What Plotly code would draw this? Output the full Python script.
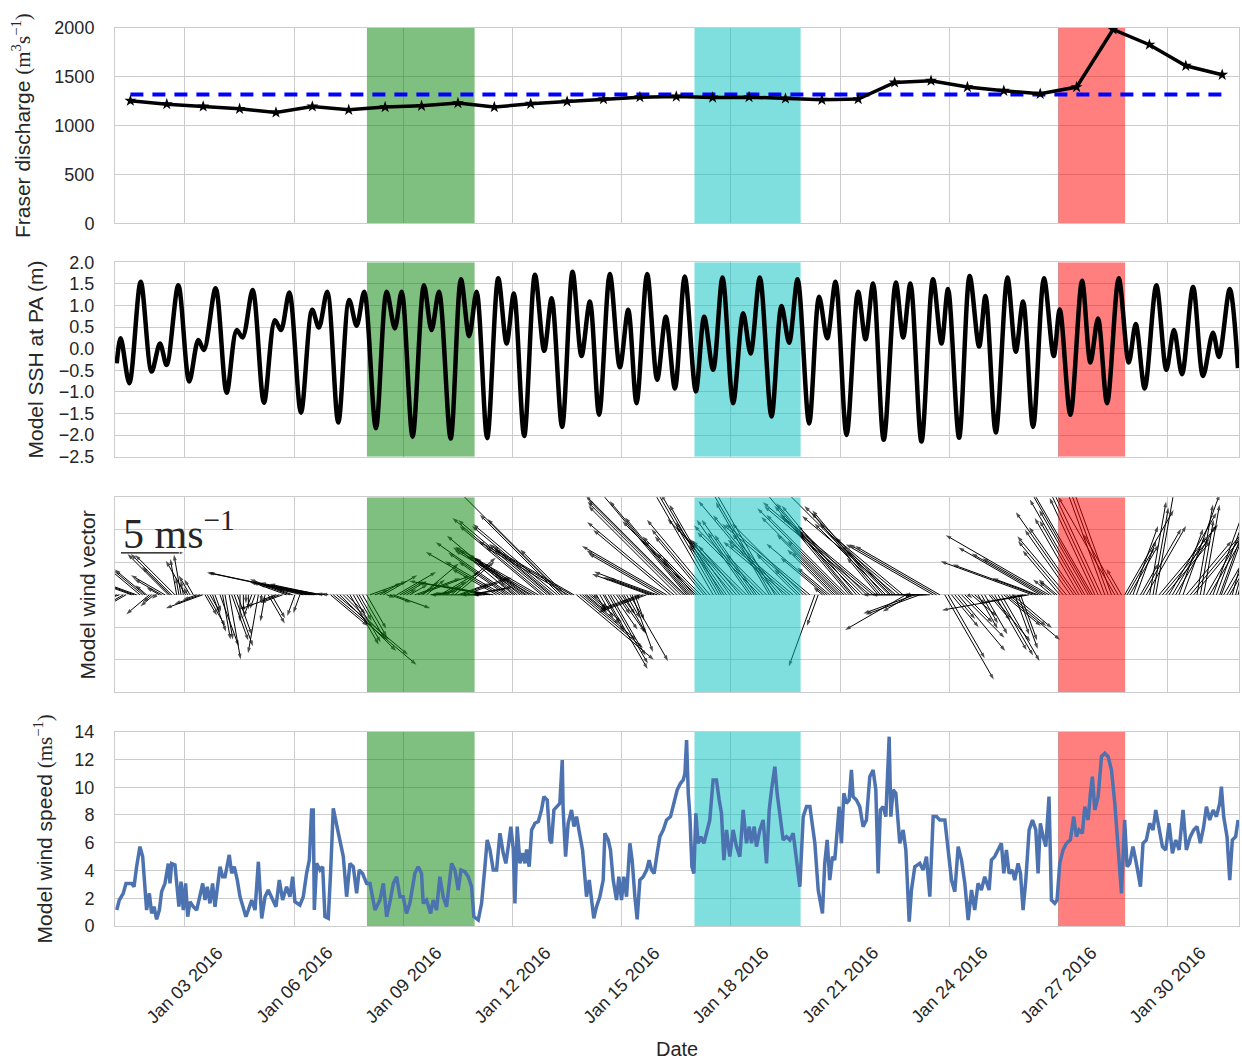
import numpy as np
import pandas as pd
import plotly.graph_objects as go
from plotly.subplots import make_subplots

T0 = pd.Timestamp("2016-01-01 00:00")

# ---------------- data ----------------
# Fraser discharge: daily means (plotted at noon), Jan 1 .. Jan 31
discharge_days = list(range(1, 32))
discharge_values = [1255, 1220, 1196, 1172, 1135, 1196, 1162, 1190, 1203, 1231,
                    1190, 1224, 1247, 1272, 1292, 1298, 1288, 1292, 1278, 1265,
                    1272, 1442, 1460, 1395, 1357, 1326, 1395, 1985, 1829, 1613, 1521]
discharge_mean = 1320

# Model SSH at PA: turning points (hours since 2016-01-01 00:00, metres)
ssh_points = [
    (3.0, -0.34), (5.6, 0.24), (11.3, -0.80), (18.8, 1.55), (26.0, -0.53), (31.5, 0.12),
    (35.9, -0.38), (43.6, 1.47), (50.8, -0.76), (56.8, 0.20), (60.5, -0.03), (68.2, 1.40),
    (75.5, -1.02), (82.1, 0.43), (86.0, 0.26), (92.6, 1.36), (100.1, -1.25), (107.3, 0.66),
    (111.3, 0.43), (116.8, 1.30), (124.5, -1.48), (131.9, 0.90), (136.3, 0.49), (141.8, 1.32),
    (149.1, -1.71), (156.3, 1.13), (161.2, 0.53), (166.2, 1.32), (173.9, -1.84), (181.0, 1.32),
    (186.4, 0.47), (190.9, 1.32), (198.1, -2.04), (205.6, 1.47), (210.6, 0.43), (215.5, 1.32),
    (223.2, -2.08), (230.0, 1.61), (235.4, 0.29), (240.3, 1.32), (247.3, -2.07), (254.6, 1.63),
    (260.1, 0.12), (264.9, 1.28), (271.7, -2.02), (278.8, 1.71), (284.9, -0.05), (289.8, 1.17),
    (296.7, -1.81), (303.6, 1.78), (309.5, -0.17), (315.0, 1.09), (321.1, -1.53), (328.2, 1.73),
    (334.8, -0.43), (340.3, 0.90), (345.8, -1.26), (352.8, 1.73), (359.4, -0.72), (365.1, 0.74),
    (371.1, -0.92), (377.6, 1.67), (384.9, -0.99), (390.4, 0.74), (396.3, -0.49), (402.5, 1.65),
    (409.5, -1.26), (416.1, 0.82), (421.0, -0.11), (427.1, 1.65), (434.8, -1.57), (441.4, 0.99),
    (446.4, 0.14), (452.0, 1.61), (459.6, -1.73), (466.2, 1.20), (471.5, 0.24), (477.0, 1.55),
    (484.3, -2.00), (491.9, 1.32), (496.8, 0.22), (501.8, 1.51), (508.8, -2.11), (516.8, 1.53),
    (521.6, 0.26), (526.4, 1.51), (533.7, -2.15), (541.3, 1.61), (546.9, 0.12), (551.2, 1.38),
    (558.5, -2.06), (565.5, 1.68), (571.7, 0.05), (575.9, 1.22), (582.7, -1.94), (590.4, 1.65),
    (595.9, -0.07), (600.7, 1.09), (607.3, -1.81), (614.5, 1.63), (620.9, -0.17), (624.9, 0.91),
    (631.9, -1.53), (639.6, 1.57), (645.1, -0.32), (650.1, 0.70), (656.1, -1.26), (663.8, 1.63),
    (670.4, -0.32), (675.0, 0.57), (680.9, -0.92), (688.6, 1.47), (695.2, -0.49), (700.2, 0.43),
    (705.5, -0.59), (712.8, 1.43), (719.4, -0.63), (725.9, 0.37), (729.9, -0.19), (737.0, 1.38),
    (742.4, -0.45),
]

# Model wind speed: vertices of the trace (hours since 2016-01-01 00:00, m/s)
speed_points = [
    (3.0, 1.15), (4.7, 1.87), (7.3, 2.35), (9.1, 3.07), (12.8, 3.07), (14.4, 2.83), (16.1, 4.27),
    (18.3, 5.72), (20.1, 5.0), (21.6, 3.07), (22.7, 1.15), (24.5, 2.35), (26.0, 0.91), (27.6, 1.39),
    (29.3, 0.48), (31.1, 1.15), (32.6, 2.47), (34.8, 3.07), (37.0, 4.5), (38.1, 3.07), (39.2, 4.5),
    (41.4, 4.4), (42.5, 2.83), (44.0, 1.39), (45.4, 3.19), (46.9, 1.15), (48.4, 3.07), (49.8, 0.67),
    (51.3, 1.75), (53.5, 1.39), (55.7, 1.15), (57.9, 2.11), (59.7, 3.07), (61.2, 1.87), (62.7, 2.83),
    (64.5, 1.63), (66.2, 3.07), (67.8, 1.39), (71.1, 4.27), (72.8, 3.55), (74.4, 3.55), (77.2, 5.12),
    (78.8, 3.79), (80.5, 4.27), (82.5, 3.31), (84.3, 2.11), (86.5, 1.39), (88.2, 0.67), (89.8, 1.15),
    (92.0, 1.87), (94.2, 1.15), (96.4, 4.63), (98.6, 0.55), (100.8, 2.11), (102.9, 2.59), (105.1, 2.11),
    (108.0, 1.39), (110.2, 3.31), (112.4, 1.87), (115.0, 2.83), (117.2, 2.11), (119.0, 3.55),
    (120.5, 1.75), (123.8, 1.51), (126.0, 2.11), (128.2, 3.79), (130.0, 4.75), (131.5, 8.36),
    (132.6, 8.36), (133.3, 1.15), (134.8, 4.51), (137.0, 4.03), (138.8, 4.27), (140.3, 0.67),
    (142.5, 0.55), (144.0, 3.79), (145.8, 8.48), (148.0, 7.28), (150.2, 6.2), (152.4, 5.0),
    (154.6, 2.11), (156.8, 4.51), (159.0, 4.27), (161.2, 2.35), (162.9, 4.03), (165.1, 3.79),
    (167.8, 3.07), (170.0, 3.07), (173.3, 1.15), (176.6, 1.87), (178.8, 3.07), (181.0, 0.67),
    (183.2, 1.75), (185.4, 3.07), (187.6, 3.55), (189.8, 2.11),
    (191.9, 2.11), (194.1, 0.91), (196.3, 1.63), (199.6, 3.79), (201.8, 4.27), (204.0, 3.79),
    (205.1, 1.63), (207.3, 1.87), (210.0, 0.91), (211.7, 1.87), (213.9, 1.15), (216.1, 3.55),
    (218.3, 2.11), (220.5, 1.39), (223.8, 4.51), (226.0, 4.03), (228.2, 2.59), (230.0, 4.03),
    (232.6, 3.91), (234.8, 3.55), (237.0, 2.83), (238.5, 0.67), (241.4, 0.43), (243.6, 1.63),
    (245.8, 4.27), (247.3, 6.2), (249.1, 5.52), (251.3, 4.03), (253.5, 4.03), (255.7, 6.68),
    (257.9, 5.24), (259.6, 4.51), (261.2, 5.72), (262.9, 7.16), (264.5, 5.52), (265.6, 1.63),
    (267.1, 7.16), (268.9, 4.51), (270.6, 5.24), (272.2, 4.51), (273.3, 5.52), (275.0, 4.27),
    (276.6, 6.92), (278.8, 7.4), (281.0, 7.52), (283.1, 8.36), (284.7, 9.32), (286.9, 9.08),
    (288.6, 6.2), (289.7, 5.96), (291.3, 8.36), (293.5, 8.6), (295.2, 8.84), (296.8, 11.96),
    (297.4, 8.36), (299.0, 5.0), (300.7, 7.4), (302.9, 8.36), (304.5, 7.16), (306.2, 7.88),
    (308.4, 6.44), (310.2, 5.48), (311.7, 3.55), (312.8, 2.11), (314.6, 3.31), (316.1, 1.63),
    (317.6, 0.55), (319.4, 1.39), (321.6, 2.11), (323.8, 3.31), (324.9, 6.68), (327.1, 6.2),
    (328.6, 5.48), (330.4, 3.31), (332.6, 1.87), (334.1, 3.55), (335.9, 1.87), (337.4, 3.55),
    (339.2, 2.11), (341.4, 5.96), (342.9, 4.75), (344.7, 2.11), (346.2, 0.48), (348.0, 3.31),
    (350.2, 3.55), (352.4, 4.03), (354.1, 4.75), (355.7, 4.03), (357.4, 3.79), (359.4, 5.24),
    (361.2, 6.44), (363.4, 6.92), (365.6, 7.64), (368.2, 7.88), (370.4, 8.84), (372.6, 9.8),
    (374.8, 10.28), (376.6, 10.52), (377.7, 11.0), (378.8, 13.4), (379.9, 9.56), (381.0, 7.88),
    (382.3, 4.27), (383.6, 3.79), (384.9, 8.12), (386.4, 5.96), (388.2, 6.44), (390.2, 5.96),
    (391.9, 6.68), (394.1, 7.64), (396.3, 10.52), (398.5, 10.52), (400.3, 9.08), (401.8, 8.12),
    (403.4, 4.75), (405.1, 6.92), (407.3, 5.0), (409.5, 6.92), (411.7, 5.72), (413.9, 5.0),
    (416.1, 8.36), (418.3, 5.96), (420.1, 7.16), (421.6, 5.96), (423.4, 7.16), (424.9, 5.72),
    (427.1, 6.92), (429.3, 7.64), (431.5, 4.51), (433.3, 8.36), (434.8, 9.8), (437.0, 11.48),
    (438.5, 9.56), (440.3, 8.12), (442.5, 6.2), (444.7, 6.44), (446.9, 6.2), (449.1, 6.68),
    (451.7, 4.51), (453.5, 2.83), (455.7, 7.88), (457.9, 8.6), (460.1, 8.6), (463.4, 5.96),
    (465.6, 2.59),
    (468.4, 0.91), (469.9, 4.51), (471.5, 6.2), (473.2, 3.31), (475.0, 5.0), (476.5, 4.75),
    (478.1, 6.68), (479.4, 8.6), (480.9, 5.96), (482.5, 9.56), (484.2, 8.84), (486.0, 9.08),
    (487.5, 11.24), (488.6, 9.32), (490.8, 9.08), (493.0, 8.6), (495.2, 7.16), (497.4, 7.64),
    (499.6, 10.76), (501.8, 11.24), (503.6, 9.8), (505.1, 3.79), (506.6, 8.36), (508.4, 8.6),
    (510.2, 7.88), (512.4, 13.64), (513.5, 7.88), (515.0, 9.8), (516.8, 9.56), (519.4, 5.96),
    (521.6, 6.92), (523.4, 5.48), (525.6, 0.31), (527.1, 2.59), (529.3, 4.27), (532.6, 4.51),
    (534.8, 4.03), (537.0, 5.0), (539.2, 2.11), (541.4, 7.88), (543.6, 7.88), (545.8, 7.64),
    (549.1, 7.64), (551.3, 5.72), (553.5, 3.31), (555.7, 2.47), (557.9, 5.72), (560.1, 4.75),
    (562.3, 3.07), (564.5, 0.43), (566.7, 2.59), (568.8, 1.15), (571.0, 3.07), (573.2, 2.59),
    (575.4, 3.55), (578.3, 2.59), (579.8, 4.75), (582.0, 5.0), (584.2, 5.48), (586.4, 5.96),
    (588.0, 3.79), (589.7, 5.48), (591.5, 3.79), (593.7, 4.03), (595.2, 3.31), (597.4, 4.51),
    (599.0, 3.79), (600.7, 1.15), (602.5, 3.31), (604.7, 6.92), (606.9, 7.64), (609.1, 6.92),
    (610.6, 3.79), (612.1, 7.4), (613.9, 6.44), (615.7, 5.72), (617.8, 9.32), (619.4, 1.87),
    (621.6, 1.63), (623.1, 1.87), (624.9, 4.51), (627.1, 5.48), (629.3, 5.96), (631.9, 6.2),
    (634.1, 7.88), (635.9, 6.44), (637.6, 6.92), (639.8, 6.68), (641.4, 8.6), (643.6, 7.64),
    (645.1, 9.56), (646.4, 10.76), (648.0, 8.36), (650.2, 9.32), (652.4, 12.2), (654.6, 12.44),
    (656.8, 12.2), (659.0, 11.24), (661.2, 8.84), (663.4, 5.48), (665.6, 2.35), (667.7, 7.64),
    (669.3, 4.27), (671.0, 4.51), (673.2, 5.72), (675.4, 4.51), (678.1, 2.83), (679.8, 5.96),
    (682.0, 6.2), (684.2, 7.4), (686.4, 6.92), (688.2, 8.36), (690.4, 7.16), (692.6, 5.72),
    (694.8, 5.48), (697.0, 7.4), (699.2, 5.24), (701.4, 6.2), (703.6, 5.48), (706.2, 8.36),
    (708.4, 5.48), (711.0, 6.44), (713.2, 6.92), (715.4, 7.16), (717.6, 5.96), (719.8, 7.16),
    (721.6, 8.6), (723.8, 7.64), (726.0, 8.36), (728.2, 7.88), (730.4, 8.84), (731.5, 10.04),
    (733.0, 7.88), (735.2, 6.44), (737.0, 3.31), (738.7, 6.2), (740.9, 6.44), (742.5, 7.64),
]

# Wind direction the vectors point to (degrees counter-clockwise from east), 6-hourly bins
wind_dir_6h = [
    200, 210, 160, 140,   # Jan 1
    220, 150, 135, 100,   # Jan 2
    120, 200, 300, 290,   # Jan 3
    280, 290, 270, 250,   # Jan 4
    260, 300, 200, 160,   # Jan 5
    250, 168, 168, 170,   # Jan 6
    320, 315, 300, 300,   # Jan 7
    20, 30, 340, 30,      # Jan 8
    30, 20, 40, 10,       # Jan 9
    30, 40, 20, 10,       # Jan 10
    180, 170, 150, 145,   # Jan 11
    140, 145, 150, 140,   # Jan 12
    140, 135, 150, 320,   # Jan 13
    320, 300, 300, 305,   # Jan 14
    300, 290, 200, 160,   # Jan 15
    150, 140, 135, 130,   # Jan 16
    135, 130, 120, 125,   # Jan 17
    130, 135, 125, 135,   # Jan 18
    120, 130, 140, 135,   # Jan 19
    140, 250, 140, 135,   # Jan 20
    135, 130, 135, 140,   # Jan 21
    130, 135, 140, 210,   # Jan 22
    200, 180, 150, 300,   # Jan 23
    310, 315, 320, 300,   # Jan 24
    310, 300, 320, 290,   # Jan 25
    190, 160, 150, 140,   # Jan 26
    130, 125, 120, 120,   # Jan 27
    115, 110, 120, 60,    # Jan 28
    70, 60, 80, 50,       # Jan 29
    60, 70, 50, 80,       # Jan 30
    60, 70, 60, 75,       # Jan 31
]

episode_starts = ["2016-01-08 00:00", "2016-01-17 00:00", "2016-01-27 00:00"]
episode_ends = ["2016-01-10 23:00", "2016-01-19 22:00", "2016-01-28 20:00"]
episode_colors = ["rgba(0,128,0,0.5)", "rgba(0,191,191,0.5)", "rgba(255,0,0,0.5)"]

tick_dates = pd.date_range("2016-01-03", "2016-01-30", freq="3D")
tick_labels = [d.strftime("%b %d %Y") for d in tick_dates]

KEY_SPEED = 5  # m/s
# quiver scale: 1 m/s of wind drawn as this many hours / y-units
HOURS_PER_MS = 8.44
Y_PER_MS = 0.394

Y_RANGES = {1: [0, 2000], 2: [-2.5, 2.0], 3: [-3, 3], 4: [0, 14]}


def ts(hours):
    return (T0 + pd.Timedelta(hours=float(hours))).round("s")


# ---------------- figure ----------------
fig = make_subplots(rows=4, cols=1, shared_xaxes=True)

TXT = "#262626"
GRID = "#cccccc"


def add_episodes(row):
    y0, y1 = Y_RANGES[row]
    for s0, s1, c in zip(episode_starts, episode_ends, episode_colors):
        fig.add_trace(go.Scatter(x=[s0, s1, s1, s0, s0], y=[y0, y0, y1, y1, y0],
                                 mode="lines", fill="toself", fillcolor=c,
                                 line=dict(width=0), hoverinfo="skip", showlegend=False),
                      row=row, col=1)


# Panel 1: discharge
add_episodes(1)
d_dates = [T0 + pd.Timedelta(days=d - 1, hours=12) for d in discharge_days]
fig.add_trace(go.Scatter(x=[d_dates[0], d_dates[-1]], y=[discharge_mean, discharge_mean],
                         mode="lines", line=dict(color="rgb(0,0,255)", width=4, dash="13px,9px"),
                         showlegend=False), row=1, col=1)
fig.add_trace(go.Scatter(x=d_dates, y=discharge_values, mode="lines+markers",
                         line=dict(color="black", width=3.5),
                         marker=dict(symbol="star", size=9, color="black"),
                         showlegend=False), row=1, col=1)

# Panel 2: SSH
add_episodes(2)
ssh_h, ssh_v = zip(*ssh_points)
fig.add_trace(go.Scatter(x=[ts(h) for h in ssh_h], y=list(ssh_v),
                         mode="lines", line=dict(color="black", width=4.5, shape="spline", smoothing=0.9),
                         showlegend=False), row=2, col=1)

# Panel 3: wind vectors (quiver)
qx, qy, qs = [], [], []
for h, s in speed_points:
    ang = np.deg2rad(wind_dir_6h[min(int(h // 6), len(wind_dir_6h) - 1)])
    u, v = s * np.cos(ang), s * np.sin(ang)
    qx += [ts(h), ts(h + u * HOURS_PER_MS), None]
    qy += [0.0, v * Y_PER_MS, None]
    qs += [0, 6, 0]
fig.add_trace(go.Scatter(x=qx, y=qy, mode="lines+markers",
                         line=dict(color="black", width=1),
                         marker=dict(symbol="arrow", size=qs, color="black", angleref="previous",
                                     line=dict(width=0)),
                         showlegend=False, connectgaps=False, hoverinfo="skip"), row=3, col=1)
add_episodes(3)

# quiver key
fig.add_trace(go.Scatter(x=[ts(5.8), ts(5.8 + KEY_SPEED * HOURS_PER_MS)], y=[1.29, 1.29],
                         mode="lines+markers", line=dict(color="black", width=1.2),
                         marker=dict(symbol="arrow", size=[0, 6], color="black", angleref="previous"),
                         showlegend=False), row=3, col=1)

# Panel 4: wind speed
add_episodes(4)
sp_h, sp_v = zip(*speed_points)
fig.add_trace(go.Scatter(x=[ts(h) for h in sp_h], y=list(sp_v),
                         mode="lines", line=dict(color="#4C72B0", width=3.5),
                         showlegend=False), row=4, col=1)

x_range = [ts(1.85), ts(743.1)]
for r in range(1, 5):
    fig.update_xaxes(row=r, col=1, range=x_range, type="date", tick0="2016-01-03",
                     dtick=3 * 86400000, showticklabels=False, showgrid=True,
                     gridcolor=GRID, gridwidth=1, showline=True, mirror=True,
                     linecolor=GRID, linewidth=1, ticks="", zeroline=False, automargin=False)

tickfont = dict(family="Liberation Sans, Arial, sans-serif", size=18, color=TXT)
titlefont = dict(family="Liberation Sans, Arial, sans-serif", size=21, color=TXT)
SERIF = "font-family:'Liberation Serif', serif"

yaxis_common = dict(showgrid=True, gridcolor=GRID, gridwidth=1, showline=True, mirror=True,
                    linecolor=GRID, linewidth=1, zeroline=False, ticks="", automargin=False)

fig.update_yaxes(row=1, col=1, range=Y_RANGES[1], dtick=500, **yaxis_common,
                 tickfont=tickfont, ticklabelstandoff=16,
                 title=dict(text=f"Fraser discharge <span style=\"{SERIF}\">(m<sup>3</sup>s<sup>−1</sup>)</span>",
                            font=titlefont, standoff=18))
fig.update_yaxes(row=2, col=1, range=Y_RANGES[2], dtick=0.5, tickformat=".1f", **yaxis_common,
                 tickfont=tickfont, ticklabelstandoff=16,
                 title=dict(text="Model SSH at PA (m)", font=titlefont, standoff=9))
fig.update_yaxes(row=3, col=1, range=Y_RANGES[3], dtick=1, showticklabels=False, **yaxis_common,
                 title=dict(text="Model wind vector", font=titlefont, standoff=12))
fig.update_yaxes(row=4, col=1, range=Y_RANGES[4], dtick=2, **yaxis_common,
                 tickfont=tickfont, ticklabelstandoff=16,
                 title=dict(text=f"Model wind speed <span style=\"{SERIF}\">(ms<sup>−1</sup>)</span>",
                            font=titlefont, standoff=16))

annotations = []
for d, lab in zip(tick_dates, tick_labels):
    annotations.append(dict(x=d, xref="x4", y=-0.0657, yref="paper", text=lab, showarrow=False,
                            textangle=-45, xanchor="center", yanchor="middle", font=tickfont))
annotations.append(dict(x=0.5, xref="paper", y=-0.137, yref="paper", text="Date", showarrow=False,
                        xanchor="center", yanchor="middle", font=dict(tickfont, size=20)))
annotations.append(dict(x=0.005, xref="x3 domain", y=0.83, yref="y3 domain",
                        text="5 ms<sup>−1</sup>", showarrow=False, xanchor="left", yanchor="middle",
                        font=dict(family="Liberation Serif, serif", size=42, color=TXT)))

fig.update_layout(
    width=1242, height=1061,
    margin=dict(l=115, r=3, t=28, b=135, autoexpand=False),
    plot_bgcolor="white", paper_bgcolor="white",
    annotations=annotations,
    yaxis=dict(domain=[0.7825, 1.0]),
    yaxis2=dict(domain=[0.5226, 0.7391]),
    yaxis3=dict(domain=[0.2602, 0.4774]),
    yaxis4=dict(domain=[0.0, 0.2164]),
)

fig.write_html("out.html", config={"displayModeBar": False},
               post_script="document.body.style.margin='0';document.body.style.padding='0';")
